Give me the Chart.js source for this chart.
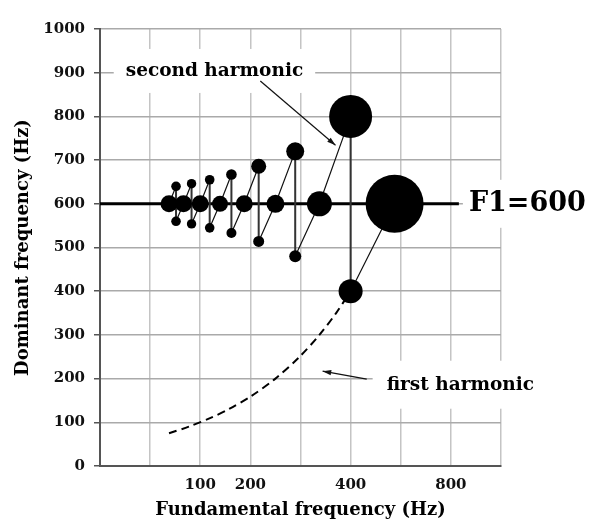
<!DOCTYPE html>
<html>
<head>
<meta charset="utf-8">
<script src="https://cdn.jsdelivr.net/npm/chart.js@4.4.0/dist/chart.umd.min.js"></script>
<style>
  html, body { margin: 0; padding: 0; background: #fff; }
</style>
</head>
<body>
<canvas id="harmonicChart" width="600" height="532"></canvas>
<script>
// stimuli where 600 Hz is itself a harmonic -> single peak on F1
const onF0 = [75, 85.7, 100, 120, 150, 200, 300, 600];
const onPeak = [600, 600, 600, 600, 600, 600, 600, 600];
const onSize = [8.5, 8.5, 8.5, 8, 8.5, 9, 12.5, 29];

// stimuli where 600 Hz falls between two harmonics -> two peaks
const splitF0 = [80, 92.3, 109.1, 133.3, 171.4, 240, 400];
const upperPeak = [640, 646, 655, 667, 686, 720, 800];
const lowerPeak = [560, 554, 545, 533, 514, 480, 400];
const upperSize = [4.8, 4.7, 4.8, 5.3, 7.5, 9, 21.5];
const lowerSize = [4.8, 4.7, 4.8, 5, 5.5, 6, 12];

// first harmonic (dashed curve)
const firstHarmF0 = [75, 90, 110, 130, 160, 200, 250, 300, 350, 400];
const firstHarmPeak = [75, 90, 110, 130, 160, 200, 250, 300, 350, 400];

const f1 = 600;
const f1LineEnd = 1085;

// x axis: 8 equal log steps, 100 Hz on the third gridline
const xMin = 39.69;
const xMax = 1600;
const xTickLabels = ['', '', '100', '200', '', '400', '', '800', ''];

const serif = '"DejaVu Serif", "Liberation Serif", serif';

// text notes, positioned in data units (Hz)
const notes = [
    { text: 'second harmonic', x: 114, y: 904, size: 18.5, align: 'center', padX: 12, padY: 22 },
    { text: 'first harmonic', x: 1100, y: 186, size: 18.5, align: 'center', padX: 14, padY: 24 },
    { text: 'F1=600', x: 1190, y: 600, size: 27, align: 'left', padX: 6, padY: 24 }
];
const arrows = [
    { from: [174, 881], to: [348, 734] },
    { from: [464, 199], to: [309, 217] }
];

// build line pieces from the arrays (null y breaks the line)
const tracks = [];
const verticals = [];
splitF0.forEach((f, i) => {
    tracks.push({ x: onF0[i], y: onPeak[i] }, { x: f, y: upperPeak[i] }, { x: f, y: null });
    tracks.push({ x: f, y: lowerPeak[i] }, { x: onF0[i + 1], y: onPeak[i + 1] }, { x: f, y: null });
    verticals.push({ x: f, y: lowerPeak[i] }, { x: f, y: upperPeak[i] }, { x: f, y: null });
});

const bubbles = [];
onF0.forEach((f, i) => bubbles.push({ x: f, y: onPeak[i], r: onSize[i] }));
splitF0.forEach((f, i) => {
    bubbles.push({ x: f, y: upperPeak[i], r: upperSize[i] });
    bubbles.push({ x: f, y: lowerPeak[i], r: lowerSize[i] });
});

const notePlugin = {
    id: 'notes',
    beforeDatasetsDraw(chart) {
        const { ctx, scales: { x, y } } = chart;
        ctx.save();
        notes.forEach(n => {
            ctx.font = 'bold ' + n.size + 'px ' + serif;
            const w = ctx.measureText(n.text).width;
            const px = x.getPixelForValue(n.x);
            const py = y.getPixelForValue(n.y);
            const left = n.align === 'left' ? px : px - w / 2;
            ctx.fillStyle = '#fff';
            ctx.fillRect(left - n.padX, py - n.padY, w + 2 * n.padX, 2 * n.padY);
            ctx.fillStyle = '#000';
            ctx.textAlign = 'left';
            ctx.textBaseline = 'middle';
            ctx.fillText(n.text, left, py);
        });
        ctx.restore();
    },
    afterDatasetsDraw(chart) {
        const { ctx, scales: { x, y } } = chart;
        ctx.save();
        ctx.strokeStyle = '#111';
        ctx.fillStyle = '#111';
        ctx.lineWidth = 1.2;
        arrows.forEach(a => {
            const x1 = x.getPixelForValue(a.from[0]), y1 = y.getPixelForValue(a.from[1]);
            const x2 = x.getPixelForValue(a.to[0]), y2 = y.getPixelForValue(a.to[1]);
            const ang = Math.atan2(y2 - y1, x2 - x1);
            ctx.beginPath();
            ctx.moveTo(x1, y1);
            ctx.lineTo(x2, y2);
            ctx.stroke();
            ctx.beginPath();
            ctx.moveTo(x2, y2);
            ctx.lineTo(x2 - 9 * Math.cos(ang - 0.3), y2 - 9 * Math.sin(ang - 0.3));
            ctx.lineTo(x2 - 9 * Math.cos(ang + 0.3), y2 - 9 * Math.sin(ang + 0.3));
            ctx.closePath();
            ctx.fill();
        });
        ctx.restore();
    }
};

const ctx = document.getElementById('harmonicChart').getContext('2d');
const harmonicChart = new Chart(ctx, {
    type: 'scatter',
    data: {
        datasets: [
            {
                type: 'bubble',
                data: bubbles,
                backgroundColor: '#000',
                borderWidth: 0,
                order: 0
            },
            {
                type: 'line',
                data: tracks,
                borderColor: '#111',
                borderWidth: 1.2,
                pointRadius: 0,
                spanGaps: false,
                order: 2
            },
            {
                type: 'line',
                data: verticals,
                borderColor: '#333',
                borderWidth: 2,
                pointRadius: 0,
                spanGaps: false,
                order: 3
            },
            {
                type: 'line',
                data: [{ x: xMin, y: f1 }, { x: f1LineEnd, y: f1 }],
                borderColor: '#000',
                borderWidth: 3,
                pointRadius: 0,
                order: 4
            },
            {
                type: 'line',
                data: firstHarmF0.map((f, i) => ({ x: f, y: firstHarmPeak[i] })),
                borderColor: '#000',
                borderWidth: 2,
                borderDash: [8, 5],
                tension: 0.3,
                pointRadius: 0,
                order: 5
            }
        ]
    },
    options: {
        responsive: false,
        animation: false,
        events: [],
        layout: { padding: { top: 19, right: 99, left: 0, bottom: 0 } },
        plugins: {
            legend: { display: false },
            tooltip: { enabled: false }
        },
        scales: {
            x: {
                type: 'logarithmic',
                min: xMin,
                max: xMax,
                afterBuildTicks: scale => {
                    const n = xTickLabels.length - 1;
                    scale.ticks = xTickLabels.map((_, k) => ({ value: xMin * Math.pow(xMax / xMin, k / n) }));
                },
                afterFit: scale => { scale.height = 66; },
                grid: { color: '#c4c4c4', lineWidth: 1.5, drawTicks: false },
                border: { color: '#555', width: 2 },
                ticks: {
                    autoSkip: false,
                    maxRotation: 0,
                    padding: 10,
                    color: '#111',
                    font: { family: serif, weight: 'bold', size: 15 },
                    callback: (v, i) => xTickLabels[i]
                },
                title: {
                    display: true,
                    text: 'Fundamental frequency (Hz)',
                    color: '#000',
                    font: { family: serif, weight: 'bold', size: 18 },
                    padding: { top: 0, bottom: 11 }
                }
            },
            y: {
                min: 0,
                max: 1000,
                afterFit: scale => { scale.width = 100; },
                grid: { color: '#aaa', lineWidth: 1.5, tickLength: 6, tickColor: '#555' },
                border: { color: '#555', width: 2 },
                ticks: {
                    stepSize: 100,
                    padding: 9,
                    color: '#111',
                    font: { family: serif, weight: 'bold', size: 15 },
                    callback: v => String(v)
                },
                title: {
                    display: true,
                    text: 'Dominant frequency (Hz)',
                    color: '#000',
                    font: { family: serif, weight: 'bold', size: 18 },
                    padding: { top: 13, bottom: 0 }
                }
            }
        }
    },
    plugins: [notePlugin]
});
</script>
</body>
</html>
